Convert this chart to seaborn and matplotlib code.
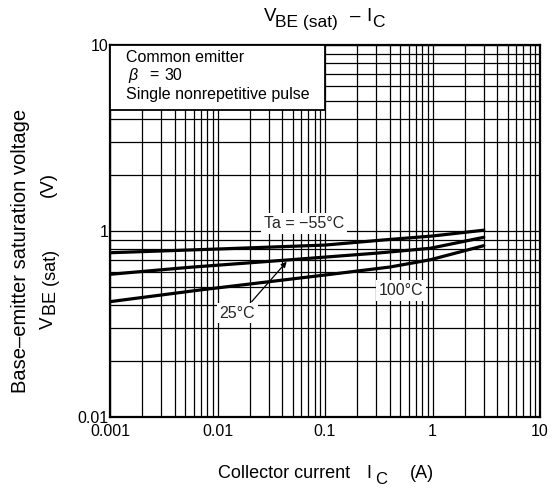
import matplotlib
matplotlib.use("Agg")
import matplotlib.pyplot as plt
from matplotlib.patches import Rectangle
from matplotlib.ticker import LogLocator, NullFormatter
import numpy as np
import pandas as pd
import seaborn as sns

# Collector current (A) and base-emitter saturation voltage (V) per ambient temperature
ic_m55 = [0.001, 0.01, 0.1, 0.35, 1.0, 3.0]
vbe_m55 = [0.764, 0.80, 0.84, 0.895, 0.94, 1.01]
ic_25 = [0.001, 0.0055, 0.044, 0.3, 0.95, 3.0]
vbe_25 = [0.585, 0.638, 0.698, 0.76, 0.807, 0.925]
ic_100 = [0.001, 0.0069, 0.1, 0.4, 0.95, 3.0]
vbe_100 = [0.417, 0.482, 0.58, 0.64, 0.70, 0.834]

x_ticks = [0.001, 0.01, 0.1, 1, 10]
x_tick_labels = ["0.001", "0.01", "0.1", "1", "10"]
y_ticks = [0.1, 1, 10]
y_tick_labels = ["0.01", "1", "10"]

df = pd.concat([
    pd.DataFrame({"ic": ic_m55, "vbe": vbe_m55, "ta": "-55"}),
    pd.DataFrame({"ic": ic_25, "vbe": vbe_25, "ta": "25"}),
    pd.DataFrame({"ic": ic_100, "vbe": vbe_100, "ta": "100"}),
])

sns.set_theme(style="white")
plt.rcParams["font.family"] = ["Liberation Sans", "DejaVu Sans"]
plt.rcParams["mathtext.fontset"] = "custom"
plt.rcParams["mathtext.rm"] = "Liberation Sans"
plt.rcParams["mathtext.it"] = "Liberation Sans:italic"

W, H = 553, 490
fig = plt.figure(figsize=(W / 100, H / 100), dpi=100)
ax = fig.add_axes([110 / W, 73 / H, 430 / W, 372 / H])

sns.lineplot(data=df, x="ic", y="vbe", units="ta", estimator=None,
             color="black", linewidth=2.3, ax=ax, zorder=3, sort=False)

ax.set_xscale("log")
ax.set_yscale("log")
ax.set_xlim(0.001, 10)
ax.set_ylim(0.1, 10)

ax.set_xticks(x_ticks)
ax.set_xticklabels(x_tick_labels)
ax.set_yticks(y_ticks)
ax.set_yticklabels(y_tick_labels)
ax.xaxis.set_minor_locator(LogLocator(base=10, subs=np.arange(2, 10)))
ax.yaxis.set_minor_locator(LogLocator(base=10, subs=np.arange(2, 10)))
ax.xaxis.set_minor_formatter(NullFormatter())
ax.yaxis.set_minor_formatter(NullFormatter())
ax.tick_params(which="both", length=0, labelsize=11.5, colors="black")
ax.tick_params(axis="x", pad=5)
ax.tick_params(axis="y", pad=1)
ax.set_xlabel("")
ax.set_ylabel("")

ax.grid(which="both", color="black", linewidth=0.9)
ax.set_axisbelow(True)
for s in ax.spines.values():
    s.set_color("black")
    s.set_linewidth(1.6)


def put(x, y, s, size, rot=0, **kw):
    """Place a text run with its left baseline at pixel (x, y), y measured from the top."""
    fig.text(x / W, 1 - y / H, s, fontsize=size, ha="left", va="baseline",
             rotation=rot, rotation_mode="anchor", color="black", **kw)


# Title: V_BE(sat) – I_C
put(264, 21, "V", 13.5)
put(275, 27, "BE (sat)", 12.5)
put(350, 21, "\u2013", 13.5)
put(366, 21, "I", 13.5)
put(372, 27, "C", 12.5)

# X axis title
put(218, 478, "Collector current", 13)
put(366, 478, "I", 13)
put(375, 484, "C", 12)
put(410, 478, "(A)", 13)

# Y axis title, two rotated lines
fig.text(21 / W, 1 - 251 / H, "Base\u2013emitter saturation voltage", fontsize=14.5,
         rotation=90, ha="center", va="center", color="black")
put(53, 329, "V", 13.5, rot=90)
put(56, 315, "BE (sat)", 13, rot=90)
put(53, 197, "(V)", 13.5, rot=90)

# Condition box in the upper-left corner
ax.add_patch(Rectangle((0, 1 - 65 / 372), 215 / 430, 65 / 372, transform=ax.transAxes,
                       facecolor="white", edgecolor="black", linewidth=1.3, zorder=4))
put(126, 62, "Common emitter", 11.5, zorder=5)
put(128, 80, r"$\it{\beta}$", 11.5, zorder=5)
put(149, 80, "=", 11.5, zorder=5)
put(164, 80, "30", 11.5, zorder=5)
put(126, 99, "Single nonrepetitive pulse", 11.5, zorder=5)

label_box = dict(facecolor="white", edgecolor="none", pad=2.0)
ax.text(0.064, 1.10, "Ta = \u221255\u00b0C", fontsize=11.5, ha="center", va="center",
        bbox=label_box, zorder=5)
ax.text(0.51, 0.48, "100\u00b0C", fontsize=11.5, ha="center", va="center",
        bbox=label_box, zorder=5)
ax.text(0.0153, 0.362, "25\u00b0C", fontsize=11.5, ha="center", va="center",
        bbox=label_box, zorder=5)
ax.annotate("", xy=(0.044, 0.684), xytext=(0.0208, 0.417), zorder=5,
            arrowprops=dict(arrowstyle="-|>", color="black", lw=0.9,
                            mutation_scale=8, shrinkA=0, shrinkB=0))

fig.savefig("out.png", dpi=100)
